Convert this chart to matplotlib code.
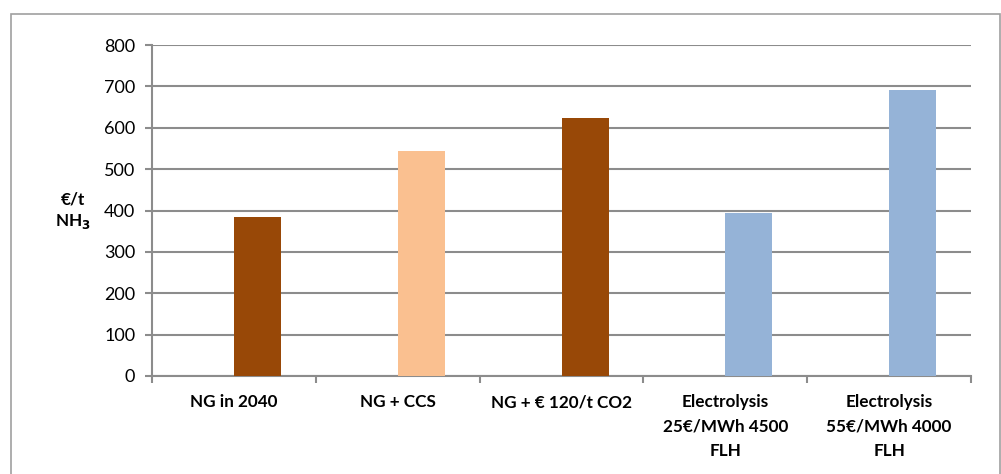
import matplotlib as mpl
mpl.use('Agg')
import matplotlib.pyplot as plt
import numpy as np
from matplotlib.patches import Rectangle

# data
categories = ['NG in 2040', 'NG + CCS', 'NG + € 120/t CO2',
              'Electrolysis\n25€/MWh 4500\nFLH', 'Electrolysis\n55€/MWh 4000\nFLH']
costs = [384, 544, 624, 393, 691]
colors = ['#984807', '#FAC090', '#984807', '#95B3D7', '#95B3D7']
yticks = [0, 100, 200, 300, 400, 500, 600, 700, 800]

plt.rcParams['font.family'] = ['Lato', 'DejaVu Sans']
gridc = '#8c8c8c'

W, H = 1001, 474
fig = plt.figure(figsize=(W/100, H/100), dpi=100)
fig.patch.set_facecolor('white')

# outer chart frame (bottom runs off the picture)
fig.add_artist(Rectangle((11/W, -0.05), (1000-11)/W, 1.05 - 14/H,
                         transform=fig.transFigure, fill=False,
                         edgecolor='#a0a0a0', lw=1.2))

ax = fig.add_axes([152/W, 1-376/H, (971-152)/W, (376-45)/H])
x = np.arange(len(categories))
ax.bar(x, costs, width=0.287, align='edge', color=colors, zorder=3)

ax.set_xlim(-0.5, len(categories)-0.5)
ax.set_ylim(0, 800)
ax.set_yticks(yticks)
ax.yaxis.grid(True, color=gridc, lw=1.5, zorder=0)
ax.tick_params(axis='y', length=5, color=gridc, width=1.5, labelsize=13, pad=7)

ax.set_xticks(x)
ax.set_xticklabels(categories, fontweight='bold', fontsize=12.3, linespacing=1.65)
ax.set_xticks(np.arange(len(categories)+1)-0.5, minor=True)
ax.tick_params(axis='x', which='major', length=0, pad=13)
ax.tick_params(axis='x', which='minor', length=5, color=gridc, width=1.5)

for s in ['top', 'right']:
    ax.spines[s].set_visible(False)
for s in ['left', 'bottom']:
    ax.spines[s].set_color(gridc)
    ax.spines[s].set_linewidth(1.5)

fig.text(73/W, 1-211/H, '€/t\nNH$_\\mathbf{3}$', ha='center', va='center',
         fontweight='bold', fontsize=12.3, linespacing=1.35)

fig.savefig('out.png', dpi=100)
